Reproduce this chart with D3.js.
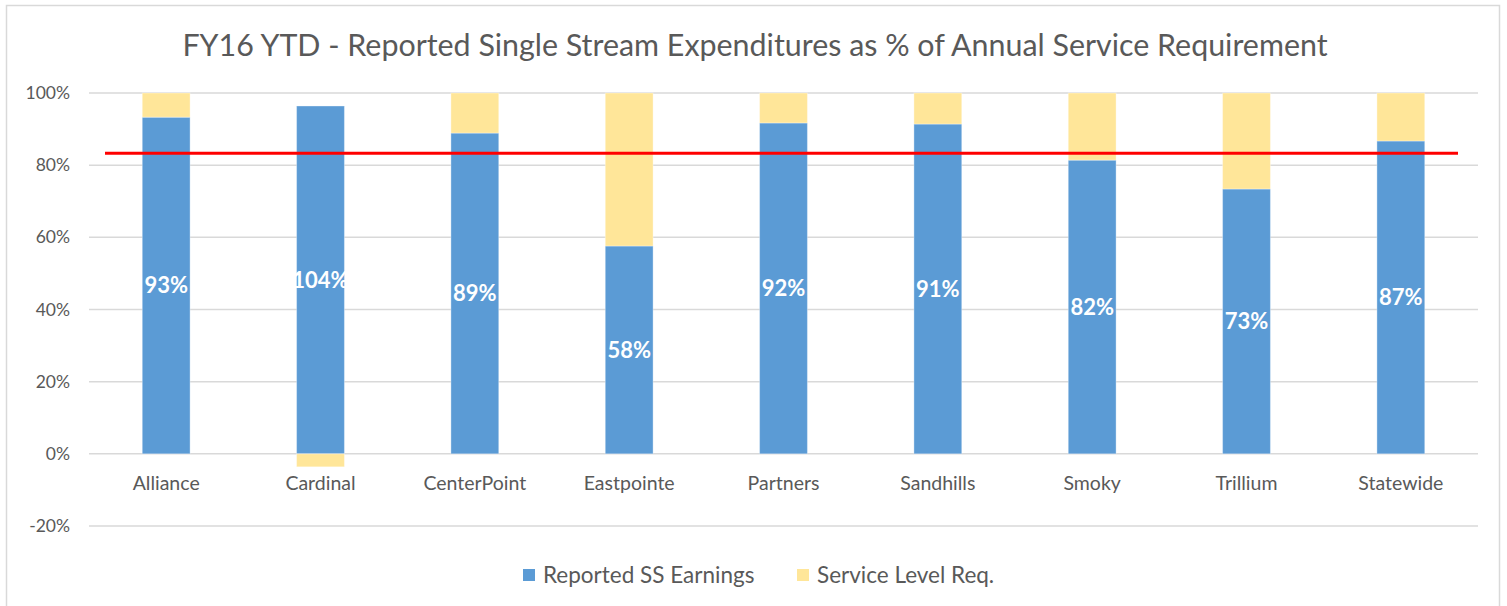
<!DOCTYPE html>
<html>
<head>
<meta charset="utf-8">
<script src="https://cdn.jsdelivr.net/npm/d3@7"></script>
<style>
  body { margin: 0; background: #fff; }
  text { font-family: Lato, "Open Sans", sans-serif; }
</style>
</head>
<body>
<div id="chart"></div>
<script>
// Chart data
const categories = ["Alliance", "Cardinal", "CenterPoint", "Eastpointe", "Partners", "Sandhills", "Smoky", "Trillium", "Statewide"];
const earnings = [93.3, 96.4, 88.9, 57.6, 91.7, 91.4, 81.4, 73.4, 86.7];
const serviceReq = [6.7, -3.6, 11.1, 42.4, 8.3, 8.6, 18.6, 26.6, 13.3];
const earningLabels = ["93%", "104%", "89%", "58%", "92%", "91%", "82%", "73%", "87%"];
const yTicks = [-20, 0, 20, 40, 60, 80, 100];
const target = 83.33;
const seriesNames = ["Reported SS Earnings", "Service Level Req."];

const W = 1507, H = 606;
const margin = { top: 93, right: 29, bottom: 80, left: 89 },
      width = W - margin.left - margin.right,
      height = H - margin.top - margin.bottom;

const svg = d3.select("#chart")
  .append("svg")
    .attr("width", W)
    .attr("height", H);

// Outer chart border
svg.append("rect")
  .attr("x", 6.5).attr("y", 5.5)
  .attr("width", 1493).attr("height", 610)
  .attr("fill", "#fff")
  .attr("stroke", "#d9d9d9")
  .attr("stroke-width", 1.5);

// Title
svg.append("text")
  .attr("x", 755)
  .attr("y", 56)
  .attr("text-anchor", "middle")
  .style("font-size", "30.4px")
  .attr("fill", "#595959")
  .text("FY16 YTD - Reported Single Stream Expenditures as % of Annual Service Requirement");

const g = svg.append("g")
  .attr("transform", `translate(${margin.left},${margin.top})`);

const x = d3.scaleBand()
  .domain(categories)
  .range([0, width])
  .paddingInner(0.69)
  .paddingOuter(0.345);

const y = d3.scaleLinear()
  .domain([-20, 100])
  .range([433, 0]);

// Gridlines + y labels
g.append("g")
  .selectAll("line")
  .data(yTicks)
  .join("line")
    .attr("x1", 0).attr("x2", width)
    .attr("y1", d => y(d)).attr("y2", d => y(d))
    .attr("stroke", "#d9d9d9")
    .attr("stroke-width", 1.5);

g.append("g")
  .selectAll("text")
  .data(yTicks)
  .join("text")
    .attr("x", -19)
    .attr("y", d => y(d))
    .attr("dy", "0.35em")
    .attr("text-anchor", "end")
    .attr("fill", "#595959")
    .style("font-size", "17.5px")
    .text(d => d + "%");

// Stacked bars
const rows = categories.map((c, i) => ({ cat: c, earn: earnings[i], req: serviceReq[i] }));
const stacked = d3.stack()
  .keys(["earn", "req"])
  .offset(d3.stackOffsetDiverging)(rows);

const color = d3.scaleOrdinal()
  .domain(["earn", "req"])
  .range(["#5b9bd5", "#ffe699"]);

g.selectAll("g.series")
  .data(stacked)
  .join("g")
    .attr("class", "series")
    .attr("fill", d => color(d.key))
  .selectAll("rect")
  .data(d => d)
  .join("rect")
    .attr("x", d => x(d.data.cat))
    .attr("y", d => y(Math.max(d[0], d[1])))
    .attr("width", x.bandwidth())
    .attr("height", d => Math.abs(y(d[0]) - y(d[1])))
    .attr("stroke", "#ffffff")
    .attr("stroke-opacity", 0.35)
    .attr("stroke-width", 1);

// Data labels in the middle of the blue bars
g.append("g")
  .selectAll("text")
  .data(rows)
  .join("text")
    .attr("x", d => x(d.cat) + x.bandwidth() / 2)
    .attr("y", d => y(d.earn / 2))
    .attr("dy", "0.36em")
    .attr("text-anchor", "middle")
    .attr("fill", "#fff")
    .style("font-size", "22px")
    .style("font-weight", "bold")
    .text((d, i) => earningLabels[i]);

// Category labels
g.append("g")
  .selectAll("text")
  .data(categories)
  .join("text")
    .attr("x", d => x(d) + x.bandwidth() / 2)
    .attr("y", y(0) + 36)
    .attr("text-anchor", "middle")
    .attr("fill", "#595959")
    .style("font-size", "19.5px")
    .text(d => d);

// Target line (10 of 12 months)
g.append("line")
  .attr("x1", 16).attr("x2", width - 20)
  .attr("y1", y(target)).attr("y2", y(target))
  .attr("stroke", "#ff0000")
  .attr("stroke-width", 3);

// Legend
const legend = svg.append("g")
  .attr("transform", "translate(523,575)");

const legendX = [0, 274];
seriesNames.forEach((name, i) => {
  const item = legend.append("g").attr("transform", `translate(${legendX[i]},0)`);
  item.append("rect")
    .attr("x", 0).attr("y", -6)
    .attr("width", 12).attr("height", 12)
    .attr("fill", color(["earn", "req"][i]));
  item.append("text")
    .attr("x", 20)
    .attr("y", 0)
    .attr("dy", "0.35em")
    .attr("fill", "#595959")
    .style("font-size", "22.5px")
    .text(name);
});
</script>
</body>
</html>
